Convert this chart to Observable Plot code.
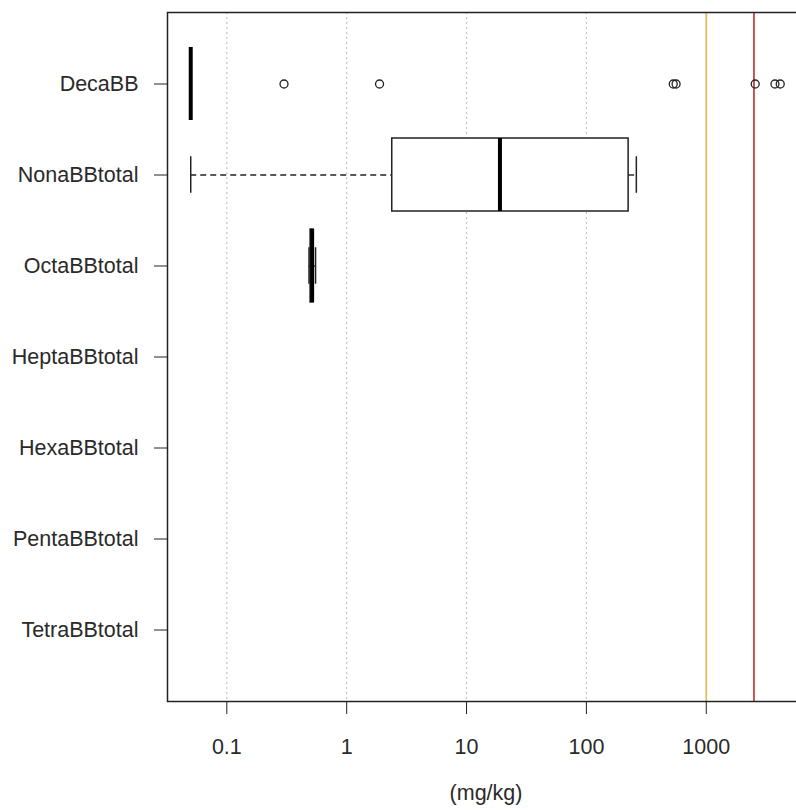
<!DOCTYPE html>
<html>
<head>
<meta charset="utf-8">
<script src="https://cdn.jsdelivr.net/npm/d3@7"></script>
<script src="https://cdn.jsdelivr.net/npm/@observablehq/plot@0.6"></script>
<style>
  html, body { margin: 0; padding: 0; background: #fff; }
  #chart { width: 796px; height: 810px; overflow: hidden; }
</style>
</head>
<body>
<div id="chart"></div>
<script>
// Categories (top to bottom)
const categories = ["DecaBB", "NonaBBtotal", "OctaBBtotal", "HeptaBBtotal", "HexaBBtotal", "PentaBBtotal", "TetraBBtotal"];

// Box statistics (mg/kg) for the groups that have data
const boxGroups   = ["DecaBB", "NonaBBtotal", "OctaBBtotal"];
const whiskerLow  = [0.05, 0.05, 0.485];
const quartile1   = [0.05, 2.4, 0.50];
const medians     = [0.05, 19, 0.515];
const quartile3   = [0.05, 225, 0.53];
const whiskerHigh = [0.05, 261, 0.55];

// Outliers
const outlierGroups = ["DecaBB", "DecaBB", "DecaBB", "DecaBB", "DecaBB", "DecaBB", "DecaBB"];
const outlierValues = [0.30, 1.88, 530, 560, 2560, 3740, 4140];

// Axis ticks and reference lines
const xTicks = [0.1, 1, 10, 100, 1000];
const gridValues = [0.1, 1, 10, 100];
const thresholdValues = [1000, 2500];
const thresholdColors = ["#e2bd5a", "#c94444"];
const axisTitle = "(mg/kg)";

const boxes = boxGroups.map((g, i) => ({
  group: g, lo: whiskerLow[i], q1: quartile1[i], med: medians[i], q3: quartile3[i], hi: whiskerHigh[i]
}));
const outliers = outlierValues.map((v, i) => ({group: outlierGroups[i], value: v}));
const thresholds = thresholdValues.map((v, i) => ({value: v, color: thresholdColors[i]}));

const chart = Plot.plot({
  width: 796,
  height: 810,
  marginTop: 12,
  marginBottom: 109,
  marginLeft: 167,
  marginRight: -8,
  style: {fontFamily: "Arial, 'Liberation Sans', sans-serif", fontSize: "21.5px", color: "#2a2a2a", background: "#fff"},
  x: {type: "log", domain: [0.032, 6600]},
  y: {type: "band", domain: categories, paddingInner: 0.2, paddingOuter: 0.38},
  marks: [
    Plot.ruleX(gridValues, {stroke: "#c4c4c4", strokeWidth: 1.2, strokeDasharray: "2,3"}),
    Plot.ruleX(thresholds, {x: "value", stroke: "color", strokeWidth: 1.8}),
    // whiskers (dashed)
    Plot.ruleY(boxes, {y: "group", x1: "lo", x2: "q1", stroke: "#222", strokeWidth: 1.4, strokeDasharray: "6,4"}),
    Plot.ruleY(boxes, {y: "group", x1: "q3", x2: "hi", stroke: "#222", strokeWidth: 1.4, strokeDasharray: "6,4"}),
    // staples
    Plot.tickX(boxes, {x: "lo", y: "group", stroke: "#222", strokeWidth: 1.5, insetTop: 18.25, insetBottom: 18.25}),
    Plot.tickX(boxes, {x: "hi", y: "group", stroke: "#222", strokeWidth: 1.5, insetTop: 18.25, insetBottom: 18.25}),
    // boxes
    Plot.barX(boxes, {x1: "q1", x2: "q3", y: "group", fill: "white", stroke: "#222", strokeWidth: 1.5}),
    // medians
    Plot.tickX(boxes, {x: "med", y: "group", stroke: "#000", strokeWidth: 4}),
    // outliers
    Plot.dot(outliers, {x: "value", y: "group", r: 4, stroke: "#222", strokeWidth: 1.3, fill: "none"}),
    Plot.axisX({ticks: xTicks, tickFormat: d => String(d), tickSize: 13, tickPadding: 24, label: null, stroke: "#222"}),
    Plot.axisY({tickSize: 13, tickPadding: 16, label: null, stroke: "#222"}),
    Plot.text([axisTitle], {text: d => d, frameAnchor: "bottom", dy: 98, fill: "#2a2a2a"}),
    Plot.frame({stroke: "#222", strokeWidth: 1.5})
  ]
});
document.getElementById("chart").appendChild(chart);
</script>
</body>
</html>
